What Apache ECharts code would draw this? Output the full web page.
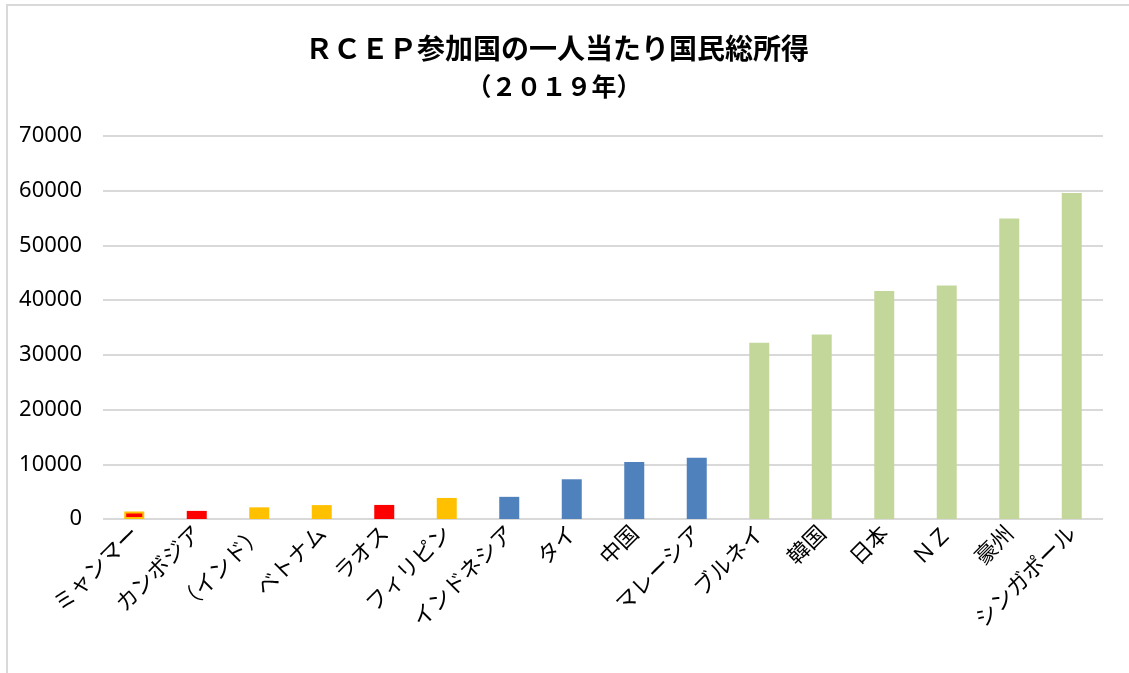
<!DOCTYPE html>
<html>
<head>
<meta charset="utf-8">
<script src="https://cdn.jsdelivr.net/npm/echarts@6/dist/echarts.min.js"></script>
<style>
  html, body { margin: 0; padding: 0; background: #fff; }
  #chart { width: 1129px; height: 673px; }
</style>
</head>
<body>
<div id="chart"></div>
<script>
// 2019年 一人当たり国民総所得 (US$)
const countries = ['ミャンマー', 'カンボジア', '（インド）', 'ベトナム', 'ラオス', 'フィリピン', 'インドネシア', 'タイ', '中国', 'マレーシア', 'ブルネイ', '韓国', '日本', 'ＮＺ', '豪州', 'シンガポール'];
const gni = [1390, 1480, 2130, 2540, 2570, 3850, 4050, 7260, 10410, 11200, 32230, 33720, 41690, 42670, 54910, 59590];
// グループ: 0=赤 1=黄 2=青 3=緑
const groups = [0, 0, 1, 1, 0, 1, 2, 2, 2, 2, 3, 3, 3, 3, 3, 3];
const yTicks = [0, 10000, 20000, 30000, 40000, 50000, 60000, 70000];

const groupColors = ['#ff0000', '#ffc000', '#4f81bd', '#c4d79b'];

const myChart = echarts.init(document.getElementById('chart'));

const seriesData = gni.map(function (v, i) {
    const item = { value: v, itemStyle: { color: groupColors[groups[i]] } };
    if (i === 0) {
        // ミャンマーだけ枠が黄色
        item.itemStyle.borderColor = '#ffc000';
        item.itemStyle.borderWidth = 2;
    }
    return item;
});

const option = {
    animation: false,
    backgroundColor: '#fff',
    graphic: [
        {
            type: 'rect',
            z: -10,
            shape: { x: 7, y: 5, width: 1300, height: 900 },
            style: { fill: 'none', stroke: '#d9d9d9', lineWidth: 2 }
        },
        {
            type: 'text',
            style: {
                x: 557, y: 48,
                text: 'ＲＣＥＰ参加国の一人当たり国民総所得',
                textAlign: 'center', textVerticalAlign: 'middle',
                font: 'bold 28px "Noto Sans CJK JP"',
                fill: '#000'
            }
        },
        {
            type: 'text',
            style: {
                x: 554, y: 86,
                text: '（２０１９年）',
                textAlign: 'center', textVerticalAlign: 'middle',
                font: 'bold 25px "Noto Sans CJK JP"',
                fill: '#000'
            }
        }
    ],
    grid: { left: 103, right: 26, top: 136, bottom: 154 },
    xAxis: {
        type: 'category',
        data: countries,
        axisLine: { show: false },
        axisTick: { show: false },
        axisLabel: {
            interval: 0,
            rotate: 45,
            margin: 10,
            color: '#000',
            fontSize: 22,
            fontFamily: '"Noto Sans CJK JP"'
        }
    },
    yAxis: {
        type: 'value',
        min: yTicks[0],
        max: yTicks[yTicks.length - 1],
        interval: 10000,
        axisLine: { show: false },
        axisTick: { show: false },
        axisLabel: {
            margin: 21,
            color: '#000',
            fontSize: 22,
            fontFamily: '"Liberation Sans Narrow", "Noto Sans", sans-serif',
            formatter: function (v) { return String(v); }
        },
        splitLine: { lineStyle: { color: '#d9d9d9', width: 2 } }
    },
    series: [{
        type: 'bar',
        barWidth: 20,
        data: seriesData
    }]
};

myChart.setOption(option);
</script>
</body>
</html>
